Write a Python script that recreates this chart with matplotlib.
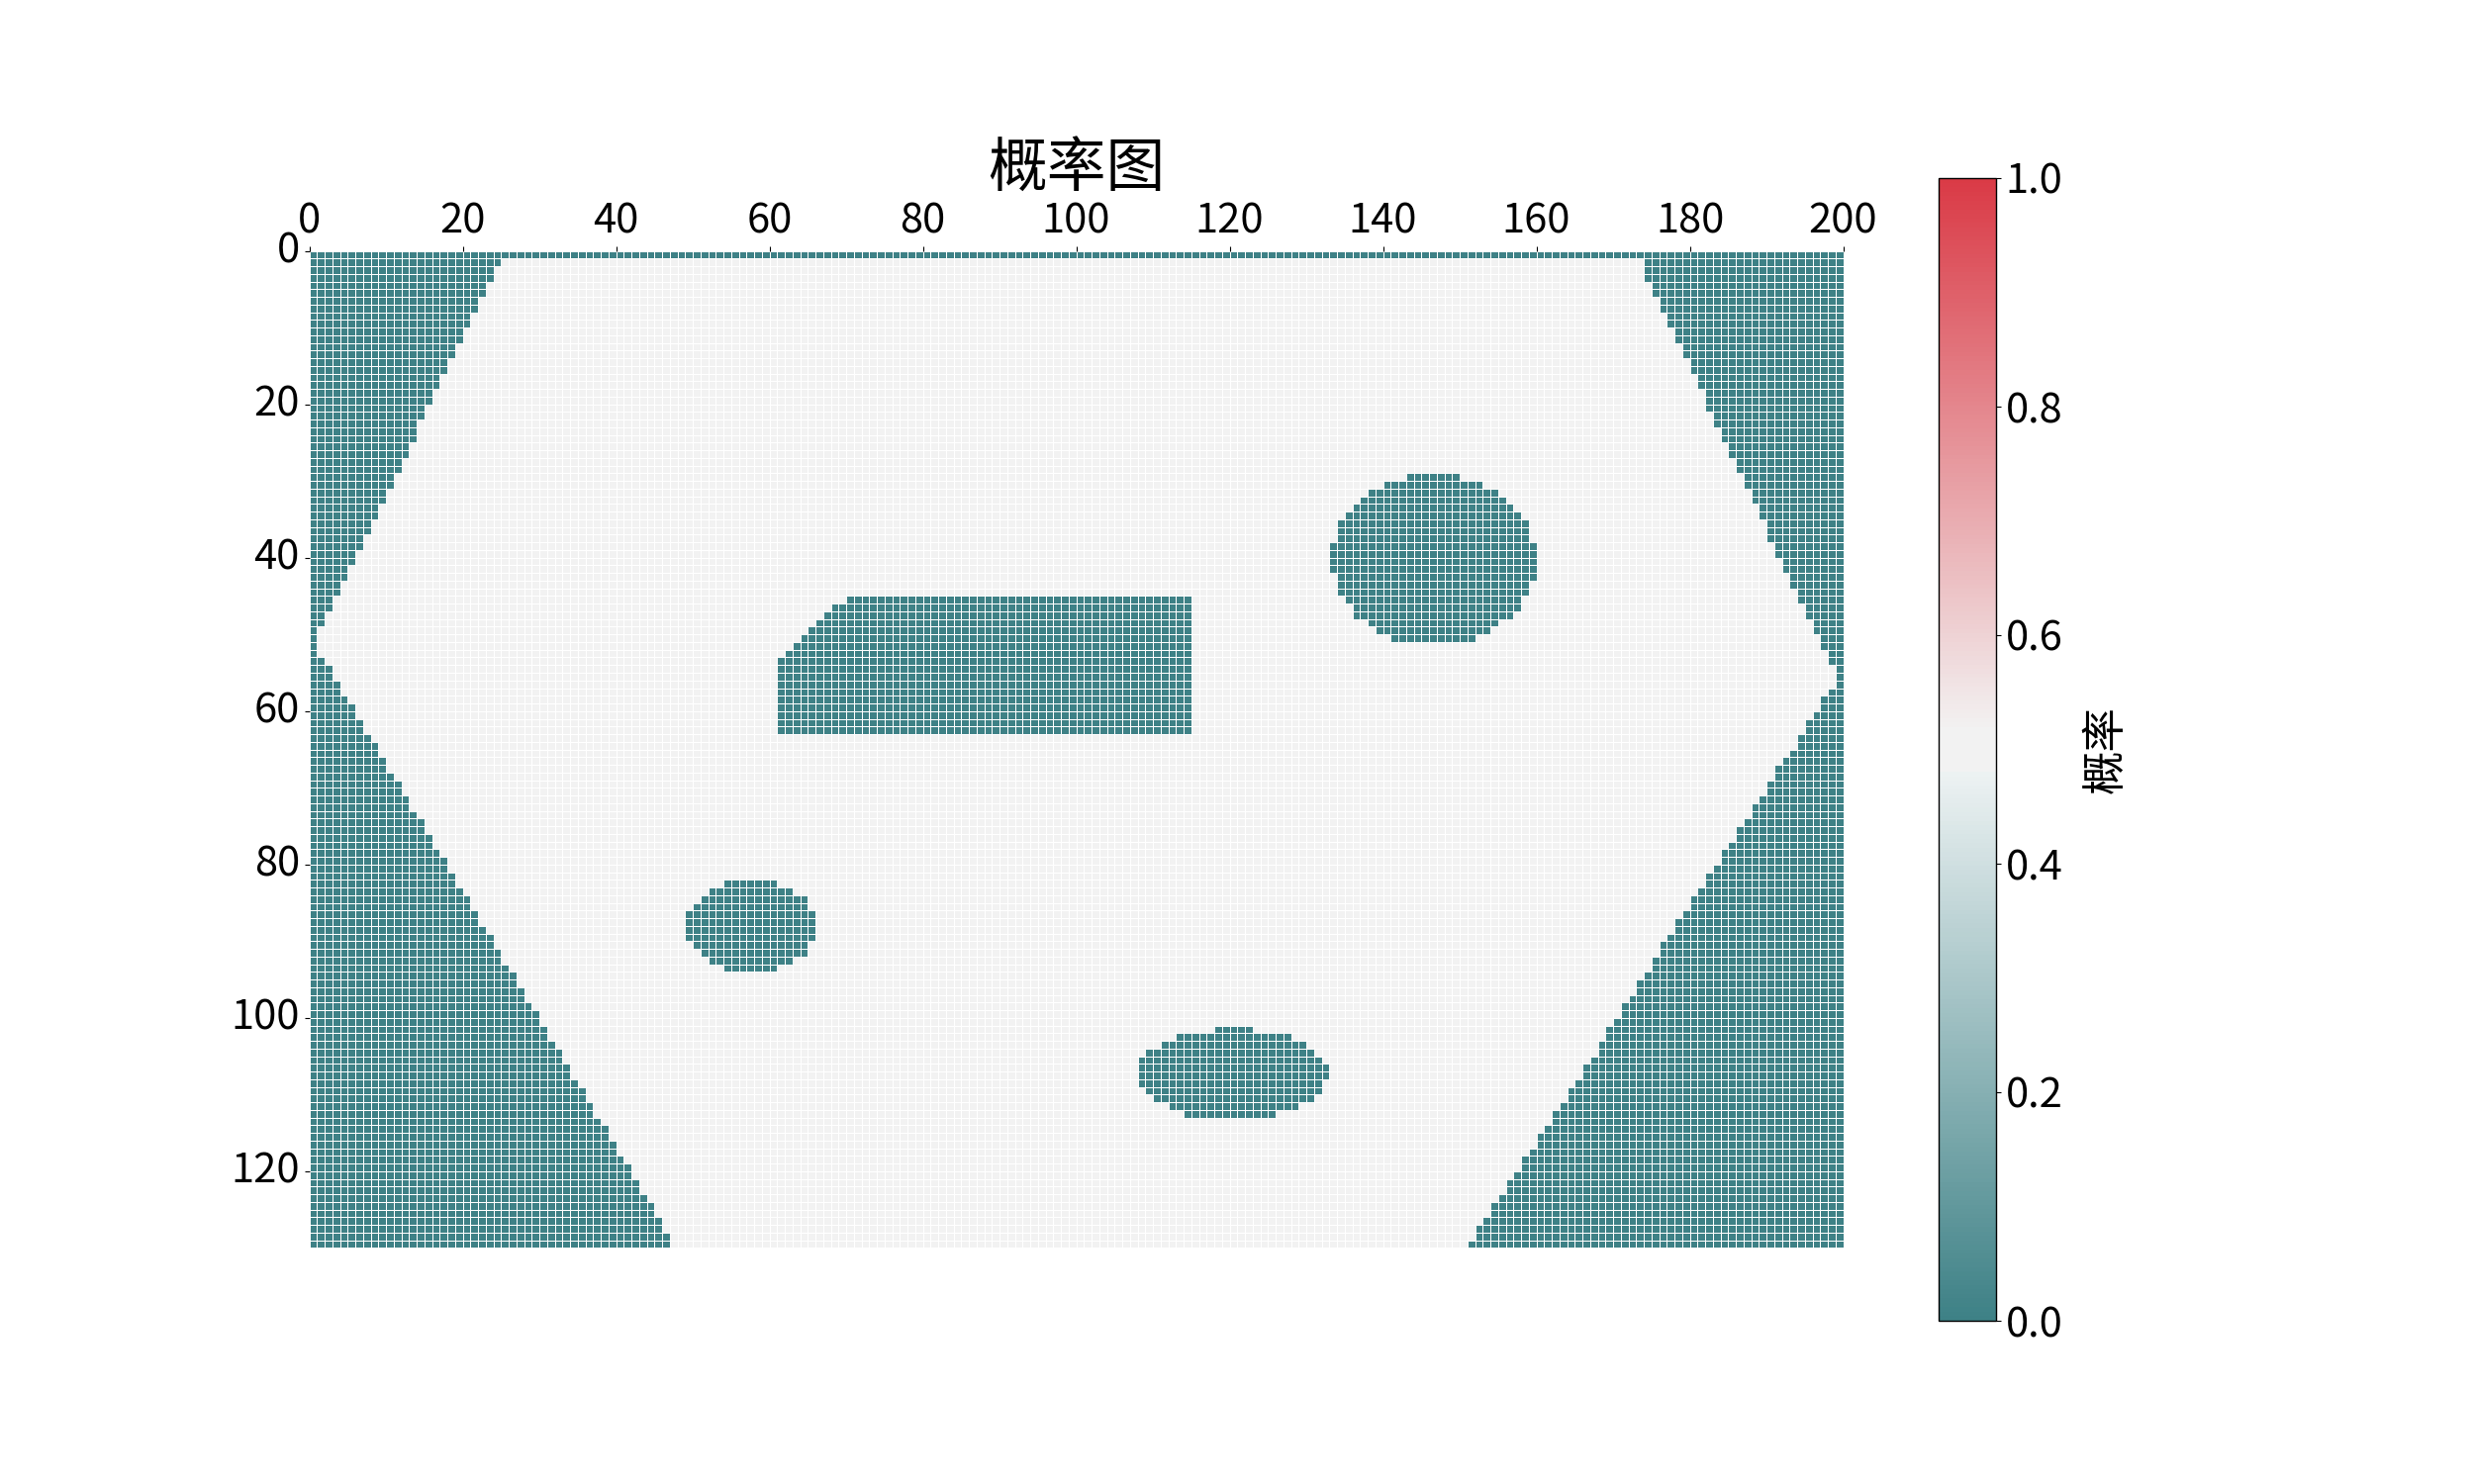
import numpy as np
import matplotlib
matplotlib.use("Agg")
import matplotlib.pyplot as plt
import seaborn as sns

plt.rcParams['font.family'] = ['Noto Sans CJK SC', 'DejaVu Sans']

n_rows = 130
n_cols = 200

free_value = 0.5
blocked_value = 0.0

# left shore: how many blocked cells from column 0, rows 1..129 (row 0 is blocked everywhere)
left_width = [25, 24, 24, 23, 23, 22, 22, 21, 21, 20,
              20, 19, 19, 18, 18, 17, 17, 16, 16, 15,
              15, 14, 14, 14, 13, 13, 12, 12, 11, 11,
              10, 10, 9, 9, 8, 8, 7, 7, 6, 6,
              5, 5, 4, 4, 3, 3, 2, 2, 1, 1,
              1, 1, 2, 3, 3, 4, 4, 5, 6, 6,
              7, 7, 8, 9, 9, 10, 10, 11, 12, 12,
              13, 13, 14, 15, 15, 16, 16, 17, 18, 18,
              19, 19, 20, 21, 21, 22, 22, 23, 24, 24,
              25, 25, 26, 27, 27, 28, 28, 29, 30, 30,
              31, 31, 32, 33, 33, 34, 34, 35, 36, 36,
              37, 37, 38, 39, 39, 40, 40, 41, 42, 42,
              43, 43, 44, 45, 45, 46, 46, 47, 47]

# right shore: first blocked column, rows 1..129
right_start = [174, 174, 174, 175, 175, 176, 176, 177, 177, 178,
               178, 179, 179, 180, 180, 181, 181, 182, 182, 182,
               183, 183, 184, 184, 185, 185, 186, 186, 187, 187,
               188, 188, 189, 189, 190, 190, 190, 191, 191, 192,
               192, 193, 193, 194, 194, 195, 195, 196, 196, 197,
               197, 198, 198, 199, 199, 199, 198, 197, 197, 196,
               195, 195, 194, 194, 193, 192, 191, 191, 190, 190,
               189, 188, 188, 187, 186, 186, 185, 184, 184, 183,
               182, 182, 181, 180, 180, 179, 178, 178, 177, 176,
               176, 175, 175, 174, 173, 173, 172, 171, 171, 170,
               169, 169, 168, 168, 167, 166, 166, 165, 164, 164,
               163, 162, 162, 161, 160, 160, 159, 158, 158, 157,
               156, 156, 155, 154, 154, 153, 152, 152, 151]

# obstacles as (row, first column, last column)
island_round = [(29, 143, 149), (30, 140, 152), (31, 138, 154), (32, 137, 155),
                (33, 136, 156), (34, 135, 157), (35, 134, 158), (36, 134, 158),
                (37, 134, 158), (38, 133, 159), (39, 133, 159), (40, 133, 159),
                (41, 133, 159), (42, 134, 159), (43, 134, 158), (44, 134, 158),
                (45, 135, 157), (46, 136, 157), (47, 136, 156), (48, 138, 154),
                (49, 139, 153), (50, 141, 151)]

island_block = [(45, 70, 114), (46, 68, 114), (47, 67, 114), (48, 66, 114),
                (49, 65, 114), (50, 64, 114), (51, 63, 114), (52, 62, 114),
                (53, 61, 114), (54, 61, 114), (55, 61, 114), (56, 61, 114),
                (57, 61, 114), (58, 61, 114), (59, 61, 114), (60, 61, 114),
                (61, 61, 114), (62, 61, 114)]

island_small = [(82, 54, 60), (83, 52, 62), (84, 51, 64), (85, 50, 64),
                (86, 49, 65), (87, 49, 65), (88, 49, 65), (89, 49, 65),
                (90, 50, 64), (91, 51, 64), (92, 52, 62), (93, 54, 60)]

island_flat = [(101, 118, 122), (102, 113, 127), (103, 111, 129), (104, 109, 130),
               (105, 108, 131), (106, 108, 132), (107, 108, 132), (108, 108, 131),
               (109, 109, 131), (110, 110, 130), (111, 112, 128), (112, 114, 125)]

xtick_pos = list(range(0, 201, 20))
ytick_pos = list(range(0, 121, 20))
cbar_ticks = [0.0, 0.2, 0.4, 0.6, 0.8, 1.0]

# build the map
grid = np.full((n_rows, n_cols), free_value)
grid[0, :] = blocked_value
for r in range(1, n_rows):
    grid[r, :left_width[r - 1]] = blocked_value
    grid[r, right_start[r - 1]:] = blocked_value
for island in [island_round, island_block, island_small, island_flat]:
    for r, c0, c1 in island:
        grid[r, c0:c1 + 1] = blocked_value

cmap = sns.diverging_palette(200, 10, sep=10, as_cmap=True)

fig, ax = plt.subplots(figsize=(25, 15), dpi=100)
sns.heatmap(grid, cmap=cmap, vmin=0, vmax=1, square=True,
            linewidths=0.7, linecolor='white',
            cbar_kws={'ticks': cbar_ticks}, ax=ax)

ax.set_xticks(xtick_pos)
ax.set_xticklabels([str(v) for v in xtick_pos], rotation=0)
ax.set_yticks(ytick_pos)
ax.set_yticklabels([str(v) for v in ytick_pos], rotation=0)
ax.xaxis.tick_top()
ax.tick_params(labelsize=30)
ax.set_title('概率图', fontsize=43)

cbar = ax.collections[0].colorbar
cbar.set_ticklabels([f'{t:.1f}' for t in cbar_ticks])
cbar.ax.tick_params(labelsize=30)
cbar.set_label('概率', fontsize=32, labelpad=14)
cbar.outline.set_linewidth(1)
cbar.outline.set_edgecolor('black')

fig.savefig('out.png', dpi=100)
